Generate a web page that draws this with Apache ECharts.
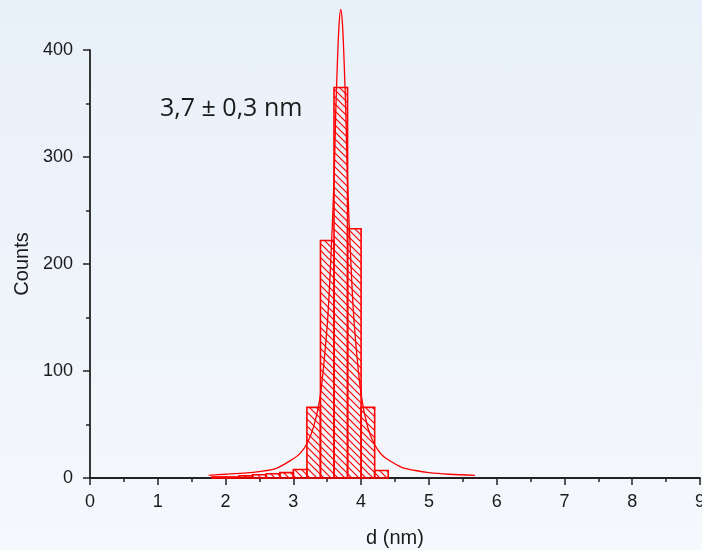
<!DOCTYPE html>
<html>
<head>
<meta charset="utf-8">
<script src="https://cdn.jsdelivr.net/npm/echarts@6/dist/echarts.min.js"></script>
<style>
    html, body { margin: 0; padding: 0; }
    body { background: linear-gradient(#e8f0f9, #f5f8fc); }
    #chart { width: 702px; height: 550px; }
</style>
</head>
<body>
<div id="chart"></div>
<script>
// histogram bins (nm) and counts
const binStart = [1.8, 2.0, 2.2, 2.4, 2.6, 2.8, 3.0, 3.2, 3.4, 3.6, 3.8, 4.0, 4.2];
const binEnd   = [2.0, 2.2, 2.4, 2.6, 2.8, 3.0, 3.2, 3.4, 3.6, 3.8, 4.0, 4.2, 4.4];
const counts   = [1, 1, 2, 3, 4, 5, 8, 66, 222, 365, 233, 66, 7];

// fitted curve
const fitX = [1.75, 2.0, 2.25, 2.5, 2.75, 3.0, 3.1, 3.2, 3.3, 3.4, 3.5, 3.55, 3.6, 3.625, 3.65, 3.675, 3.7,
              3.725, 3.75, 3.775, 3.8, 3.85, 3.9, 4.0, 4.1, 4.2, 4.3, 4.4, 4.6, 4.8, 5.0, 5.3, 5.68];
const fitY = [2.5, 3.5, 4.5, 6, 9, 18, 23, 32, 48, 78, 143, 200, 277, 340, 388, 424, 438,
              424, 388, 340, 277, 200, 143, 78, 47, 31, 22, 17, 10, 7, 5, 3.5, 2.5];

const xTicks = { min: 0, max: 9, step: 1 };
const yTicks = { min: 0, max: 400, step: 100 };

// diagonal hatch pattern for the bars
const hatch = document.createElement('canvas');
hatch.width = 7;
hatch.height = 7;
const hc = hatch.getContext('2d');
hc.strokeStyle = '#ff0000';
hc.lineWidth = 1.2;
hc.beginPath();
hc.moveTo(-1, -1); hc.lineTo(8, 8);
hc.moveTo(6, -1); hc.lineTo(8, 1);
hc.moveTo(-1, 6); hc.lineTo(1, 8);
hc.stroke();

const chart = echarts.init(document.getElementById('chart'));

const axisColor = '#222';
const labelFont = 'Liberation Sans, Arial, sans-serif';

chart.setOption({
    animation: false,
    backgroundColor: 'transparent',
    grid: { left: 90, right: 2, top: 50, bottom: 72, outerBoundsMode: 'none' },
    xAxis: {
        type: 'value',
        min: xTicks.min,
        max: xTicks.max,
        interval: xTicks.step,
        name: 'd (nm)',
        nameLocation: 'middle',
        nameGap: 50,
        nameTextStyle: { fontSize: 20, color: '#1a1a1a', fontFamily: labelFont },
        axisLine: { lineStyle: { color: axisColor, width: 1.8 } },
        axisTick: { length: 7, lineStyle: { color: axisColor, width: 1.5 } },
        minorTick: { show: true, splitNumber: 2, length: 4, lineStyle: { color: axisColor, width: 1.5 } },
        axisLabel: { margin: 15, fontSize: 18, color: '#1a1a1a', fontFamily: labelFont },
        splitLine: { show: false }
    },
    yAxis: {
        type: 'value',
        min: yTicks.min,
        max: yTicks.max,
        interval: yTicks.step,
        name: 'Counts',
        nameLocation: 'middle',
        nameGap: 53,
        nameTextStyle: { fontSize: 20, color: '#1a1a1a', fontFamily: labelFont },
        axisLine: { show: true, lineStyle: { color: axisColor, width: 1.8 } },
        axisTick: { show: true, length: 7, lineStyle: { color: axisColor, width: 1.5 } },
        minorTick: { show: true, splitNumber: 2, length: 4, lineStyle: { color: axisColor, width: 1.5 } },
        axisLabel: { margin: 17, fontSize: 18, color: '#1a1a1a', fontFamily: labelFont },
        splitLine: { show: false }
    },
    graphic: [{
        type: 'text',
        left: 160,
        top: 96,
        style: {
            text: '3,7 ± 0,3 nm',
            fontSize: 25,
            fontFamily: 'Open Sans, Noto Sans, sans-serif',
            fill: '#1a1a1a'
        }
    }],
    series: [
        {
            type: 'custom',
            data: binStart.map((s, i) => [s, binEnd[i], counts[i]]),
            encode: { x: [0, 1], y: 2 },
            z: 2,
            renderItem: (params, api) => {
                const p0 = api.coord([api.value(0), api.value(2)]);
                const p1 = api.coord([api.value(1), 0]);
                return {
                    type: 'rect',
                    shape: { x: p0[0], y: p0[1], width: p1[0] - p0[0], height: p1[1] - p0[1] },
                    style: { fill: { image: hatch, repeat: 'repeat' }, stroke: '#ff0000', lineWidth: 1.6 }
                };
            }
        },
        {
            type: 'line',
            data: fitX.map((x, i) => [x, fitY[i]]),
            showSymbol: false,
            smooth: 0.3,
            clip: false,
            z: 3,
            lineStyle: { color: '#ff0000', width: 1.3 }
        }
    ]
});
</script>
</body>
</html>
